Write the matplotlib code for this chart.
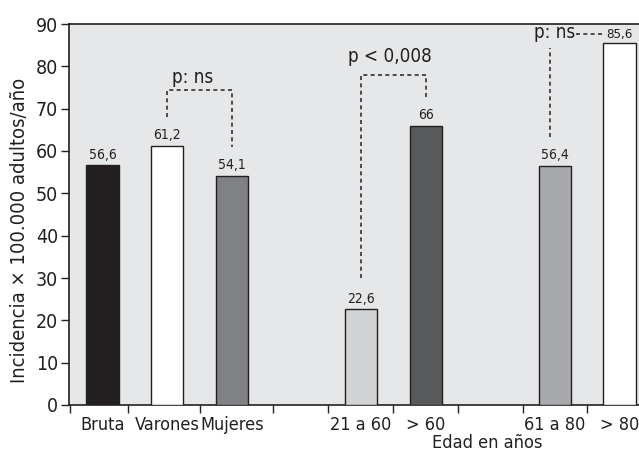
import matplotlib
matplotlib.use("Agg")
import matplotlib.pyplot as plt
from matplotlib.transforms import blended_transform_factory

plt.rcParams['font.family'] = ['DejaVu Sans']
plt.rcParams['font.stretch'] = 'condensed'

categories = ["Bruta", "Varones", "Mujeres", "21 a 60", "> 60", "61 a 80", "> 80"]
values = [56.6, 61.2, 54.1, 22.6, 66.0, 56.4, 85.6]
value_labels = ["56,6", "61,2", "54,1", "22,6", "66", "56,4", "85,6"]
slots = [0, 1, 2, 4, 5, 7, 8]
colors = ["#231f20", "#ffffff", "#808184", "#d1d3d4", "#58595b", "#a7a9ac", "#ffffff"]
minor_ticks = [-0.5, 0.4, 1.5, 2.63, 3.48, 4.5, 5.5, 6.5, 7.5]
yticks = [0, 10, 20, 30, 40, 50, 60, 70, 80, 90]

ink = "#231f20"
fig = plt.figure(figsize=(6.39, 4.54), dpi=100)
ax = fig.add_axes([69/639, 49/454, 570/639, 381/454])
ax.set_facecolor("#e6e7e8")

ax.bar(slots, values, width=0.5, color=colors, edgecolor=ink, linewidth=1.0, zorder=3)

for s, v, lab in zip(slots[:-1], values[:-1], value_labels[:-1]):
    ax.text(s, v + 1.6, lab, ha="center", va="baseline", fontsize=10, color=ink)
ax.text(slots[-1], 86.6, value_labels[-1], ha="center", va="baseline", fontsize=9.5, color=ink)

ax.set_xlim(-0.52, 8.3)
ax.set_ylim(0, 90)
ax.set_yticks(yticks)
ax.set_yticklabels([str(t) for t in yticks], fontsize=14, color=ink)
ax.set_xticks(slots)
ax.set_xticklabels(categories, fontsize=13, color=ink)
ax.set_xticks(minor_ticks, minor=True)
ax.tick_params(axis="x", which="major", length=0, pad=8)
ax.tick_params(axis="x", which="minor", length=6, width=1, color=ink, direction="out")
ax.tick_params(axis="y", length=6, width=1, color=ink, pad=2, direction="out")

for side in ["left", "bottom", "top"]:
    ax.spines[side].set_color(ink)
    ax.spines[side].set_linewidth(1.2)
ax.spines["right"].set_visible(False)

fig.text(20/639, 1 - 230/454, "Incidencia \u00d7 100.000 adultos/año", rotation=90,
         ha="center", va="center", fontsize=14.5, color=ink)
trans = blended_transform_factory(ax.transData, ax.transAxes)
ax.text(5.95, -0.1, "Edad en años", ha="center", va="center", fontsize=13, color=ink, transform=trans)

dash = dict(color=ink, linewidth=1.1, linestyle=(0, (2.6, 2.2)), zorder=4)
ax.plot([1, 1, 2, 2], [68.0, 74.4, 74.4, 61.0], **dash)
ax.text(1.4, 77.3, "p: ns", ha="center", va="center", fontsize=13.5, color=ink)
ax.plot([4, 4, 5, 5], [30.0, 78.0, 78.0, 72.0], **dash)
ax.text(4.45, 82.4, "p < 0,008", ha="center", va="center", fontsize=13.5, color=ink)
ax.plot([6.93, 6.93], [63.3, 84.3], **dash)
ax.plot([7.32, 7.72], [87.6, 87.6], **dash)
ax.text(6.99, 87.9, "p: ns", ha="center", va="center", fontsize=13.5, color=ink)

fig.savefig("out.png", dpi=100, facecolor="white")
